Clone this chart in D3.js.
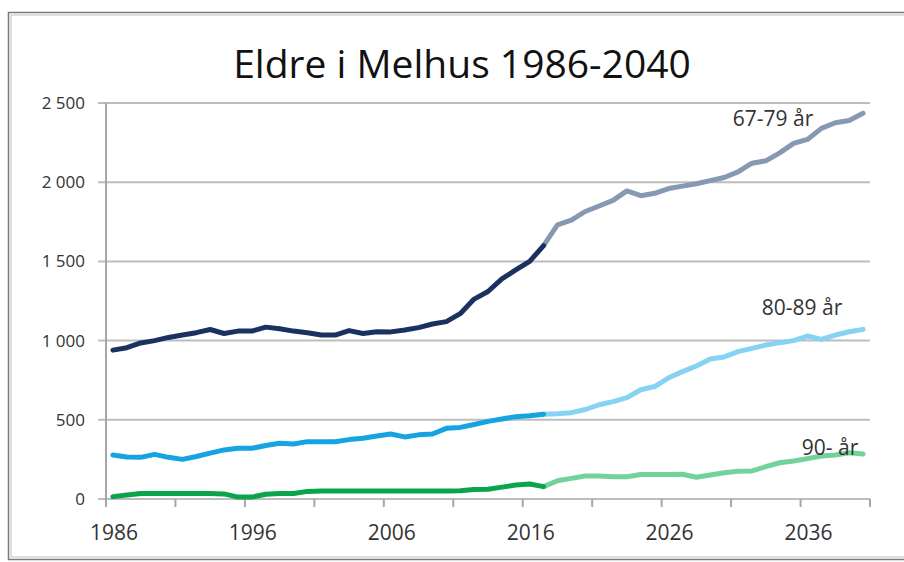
<!DOCTYPE html>
<html lang="no">
<head>
    <meta charset="UTF-8">
    <title>Eldre i Melhus 1986-2040</title>
    <script src="https://d3js.org/d3.v7.min.js"></script>
    <style>
        body {
            margin: 0;
            background: #fff;
            font-family: "Open Sans", sans-serif;
        }
        .grid line {
            stroke: #bdbdbd;
            stroke-width: 2px;
        }
        .tick-label {
            fill: #333;
        }
        .series {
            fill: none;
            stroke-width: 5px;
            stroke-linejoin: round;
            stroke-linecap: round;
        }
    </style>
</head>
<body>
    <svg id="chart" width="904" height="562"></svg>

    <script>
        // categories
        const years = d3.range(1986, 2041);
        const splitYear = 2017; // registered figures up to here, projection after

        // 67-79 år
        const age6779 = [
            940, 955, 985, 1000, 1020, 1035, 1050, 1070, 1045, 1060,
            1060, 1085, 1075, 1060, 1050, 1035, 1035, 1063, 1045, 1056,
            1055, 1067, 1082, 1105, 1120, 1170, 1262, 1310, 1390, 1446,
            1500, 1600, 1730, 1760, 1815, 1850, 1885, 1945, 1915, 1930,
            1960, 1975, 1990, 2010, 2030, 2065, 2120, 2135, 2185, 2245,
            2270, 2340, 2375, 2390, 2435
        ];
        // 80-89 år
        const age8089 = [
            278, 265, 263, 282, 263, 250, 268, 290, 310, 320,
            320, 338, 352, 347, 362, 362, 362, 375, 383, 398,
            410, 392, 405, 410, 446, 452, 470, 490, 505, 520,
            526, 535, 538, 545, 565, 595, 615, 640, 690, 710,
            765, 804, 840, 884, 897, 930, 951, 972, 987, 1000,
            1029, 1008, 1035, 1056, 1071
        ];
        // 90- år
        const age90 = [
            15, 25, 35, 35, 35, 35, 35, 35, 32, 12,
            12, 30, 35, 35, 48, 50, 50, 50, 50, 50,
            50, 50, 50, 50, 50, 52, 60, 62, 75, 88,
            95, 78, 115, 130, 145, 145, 140, 140, 155, 155,
            155, 156, 137, 152, 166, 175, 177, 204, 229, 240,
            255, 271, 278, 292, 284
        ];

        const yTicks = [0, 500, 1000, 1500, 2000, 2500];
        const xLabelYears = [1986, 1996, 2006, 2016, 2026, 2036];

        const series = [
            {name: "67-79 år", values: age6779, past: "#1b3260", future: "#8698b2", label: [773, 126]},
            {name: "80-89 år", values: age8089, past: "#16a3e2", future: "#86d2f3", label: [802, 315]},
            {name: "90- år", values: age90, past: "#0aa54a", future: "#72d29c", label: [830, 455]}
        ];

        const svg = d3.select("#chart");

        const plot = {left: 106, right: 870, top: 103, bottom: 499};

        const x = d3.scaleBand().domain(years).range([plot.left, plot.right]).padding(0);
        const y = d3.scaleLinear().domain([0, 2500]).range([plot.bottom, plot.top]);
        const cx = yr => x(yr) + x.bandwidth() / 2;

        const fmt = d3.formatLocale({decimal: ",", thousands: " ", grouping: [3], currency: ["", " kr"]}).format(",d");

        // frame
        svg.append("rect")
            .attr("x", 8.5).attr("y", 12.5)
            .attr("width", 920).attr("height", 547)
            .attr("fill", "none")
            .attr("stroke", "#7a7a7a")
            .attr("stroke-width", 1.5);
        svg.append("rect")
            .attr("x", 11).attr("y", 15)
            .attr("width", 920).attr("height", 542)
            .attr("fill", "none")
            .attr("stroke", "#dedede")
            .attr("stroke-width", 2);

        // title
        svg.append("text")
            .attr("x", 462)
            .attr("y", 78)
            .attr("text-anchor", "middle")
            .style("font-size", "39px")
            .style("fill", "#111")
            .text("Eldre i Melhus 1986-2040");

        // horizontal grid lines + y labels
        const grid = svg.append("g").attr("class", "grid");
        grid.selectAll("line")
            .data(yTicks)
            .enter().append("line")
            .attr("x1", plot.left - 8)
            .attr("x2", plot.right)
            .attr("y1", d => y(d))
            .attr("y2", d => y(d));

        svg.selectAll(".ylabel")
            .data(yTicks)
            .enter().append("text")
            .attr("class", "tick-label")
            .attr("x", 85)
            .attr("y", d => y(d) + 6)
            .attr("text-anchor", "end")
            .style("font-size", "17px")
            .text(d => fmt(d));

        // y axis line
        svg.append("line")
            .attr("x1", plot.left).attr("x2", plot.left)
            .attr("y1", plot.top).attr("y2", plot.bottom + 8)
            .attr("stroke", "#a6a6a6")
            .attr("stroke-width", 2);

        // x axis ticks every 5 categories, on band edges
        const tickYears = years.filter(d => (d - 1986) % 5 === 0);
        const tickX = tickYears.map(d => x(d)).concat([plot.right]);
        svg.selectAll(".xtick")
            .data(tickX)
            .enter().append("line")
            .attr("x1", d => d).attr("x2", d => d)
            .attr("y1", plot.bottom).attr("y2", plot.bottom + 8)
            .attr("stroke", "#a6a6a6")
            .attr("stroke-width", 2);

        svg.selectAll(".xlabel")
            .data(xLabelYears)
            .enter().append("text")
            .attr("class", "tick-label")
            .attr("x", d => cx(d) + 1)
            .attr("y", 540)
            .attr("text-anchor", "middle")
            .style("font-size", "21px")
            .text(d => d);

        // lines: registered part and projected part
        const line = d3.line().x(d => cx(d.year)).y(d => y(d.value));

        series.forEach(s => {
            const pts = years.map((yr, i) => ({year: yr, value: s.values[i]}));
            svg.append("path")
                .datum(pts.filter(d => d.year >= splitYear))
                .attr("class", "series")
                .attr("stroke", s.future)
                .attr("d", line);
            svg.append("path")
                .datum(pts.filter(d => d.year <= splitYear))
                .attr("class", "series")
                .attr("stroke", s.past)
                .attr("d", line);

            svg.append("text")
                .attr("x", s.label[0])
                .attr("y", s.label[1])
                .attr("text-anchor", "middle")
                .style("font-size", "21px")
                .style("fill", "#333")
                .text(s.name);
        });
    </script>
</body>
</html>
